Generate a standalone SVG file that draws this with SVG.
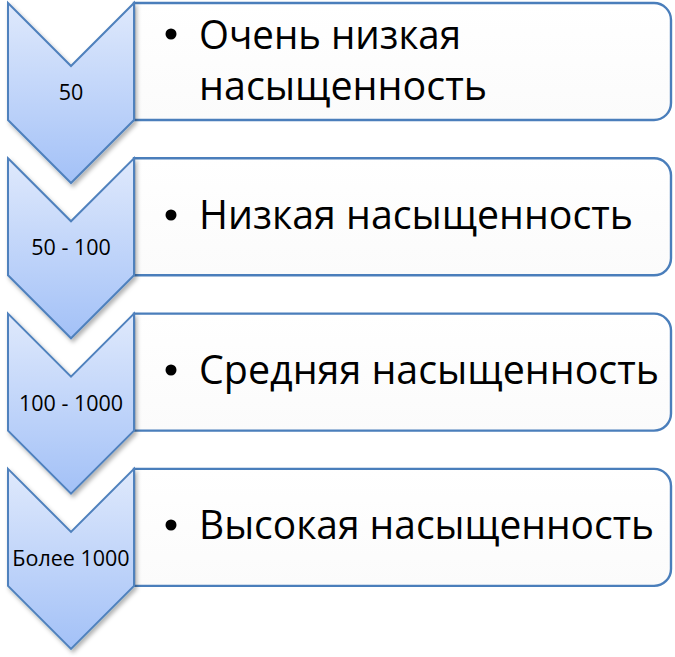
<svg xmlns="http://www.w3.org/2000/svg" width="675" height="657" viewBox="0 0 675 657">
  <defs>
    <linearGradient id="chevFill" x1="0" y1="0" x2="0" y2="1">
      <stop offset="0" stop-color="#dfe9fc"/>
      <stop offset="1" stop-color="#a3c1f7"/>
    </linearGradient>
    <linearGradient id="boxFill" x1="0" y1="0" x2="0" y2="1">
      <stop offset="0" stop-color="#ffffff"/>
      <stop offset="1" stop-color="#fbfbfb"/>
    </linearGradient>
    <filter id="shadow" x="-20%" y="-20%" width="140%" height="140%">
      <feDropShadow dx="2" dy="3" stdDeviation="2" flood-color="#000000" flood-opacity="0.3"/>
    </filter>
  </defs>
  <style>
    .chev { fill: url(#chevFill); stroke: #4f81bd; stroke-width: 2; stroke-linejoin: miter; filter: url(#shadow); }
    .box { fill: url(#boxFill); stroke: #4a7ebb; stroke-width: 2.4; }
    .lbl { font-family: "Open Sans", "Liberation Sans", sans-serif; font-size: 21.5px; fill: #000000; text-anchor: middle; }
    .txt { font-family: "Open Sans", "Liberation Sans", sans-serif; font-size: 40px; fill: #000000; }
    .bul { fill: #000000; }
  </style>

  <!-- Boxes -->
  <g id="box1">
    <path class="box" d="M134,3 H654 A17,17 0 0 1 671,20 V103 A17,17 0 0 1 654,120 H134 Z"/>
    <circle class="bul" cx="171" cy="34" r="5.5"/>
    <text class="txt" x="199" y="49" textLength="262" lengthAdjust="spacingAndGlyphs">Очень низкая</text>
    <text class="txt" x="199" y="100" textLength="288" lengthAdjust="spacingAndGlyphs">насыщенность</text>
  </g>
  <g id="box2">
    <path class="box" d="M134,158.3 H654 A17,17 0 0 1 671,175.3 V258.3 A17,17 0 0 1 654,275.3 H134 Z"/>
    <circle class="bul" cx="171" cy="215" r="5.5"/>
    <text class="txt" x="199" y="229" textLength="434" lengthAdjust="spacingAndGlyphs">Низкая насыщенность</text>
  </g>
  <g id="box3">
    <path class="box" d="M134,313.6 H654 A17,17 0 0 1 671,330.6 V413.6 A17,17 0 0 1 654,430.6 H134 Z"/>
    <circle class="bul" cx="171" cy="370" r="5.5"/>
    <text class="txt" x="199" y="384" textLength="460" lengthAdjust="spacingAndGlyphs">Средняя насыщенность</text>
  </g>
  <g id="box4">
    <path class="box" d="M134,468.9 H654 A17,17 0 0 1 671,485.9 V568.9 A17,17 0 0 1 654,585.9 H134 Z"/>
    <circle class="bul" cx="171" cy="525" r="5.5"/>
    <text class="txt" x="199" y="539" textLength="455" lengthAdjust="spacingAndGlyphs">Высокая насыщенность</text>
  </g>

  <!-- Chevrons -->
  <g id="chevron1">
    <path class="chev" d="M8,3 L71,66 L134,3 V120 L71,183 L8,120 Z"/>
    <text class="lbl" x="71" y="100">50</text>
  </g>
  <g id="chevron2">
    <path class="chev" d="M8,158.3 L71,221.3 L134,158.3 V275.3 L71,338.3 L8,275.3 Z"/>
    <text class="lbl" x="71" y="255.3">50 - 100</text>
  </g>
  <g id="chevron3">
    <path class="chev" d="M8,313.6 L71,376.6 L134,313.6 V430.6 L71,493.6 L8,430.6 Z"/>
    <text class="lbl" x="71" y="410.6">100 - 1000</text>
  </g>
  <g id="chevron4">
    <path class="chev" d="M8,468.9 L71,531.9 L134,468.9 V585.9 L71,648.9 L8,585.9 Z"/>
    <text class="lbl" x="71" y="566">Более 1000</text>
  </g>
</svg>
